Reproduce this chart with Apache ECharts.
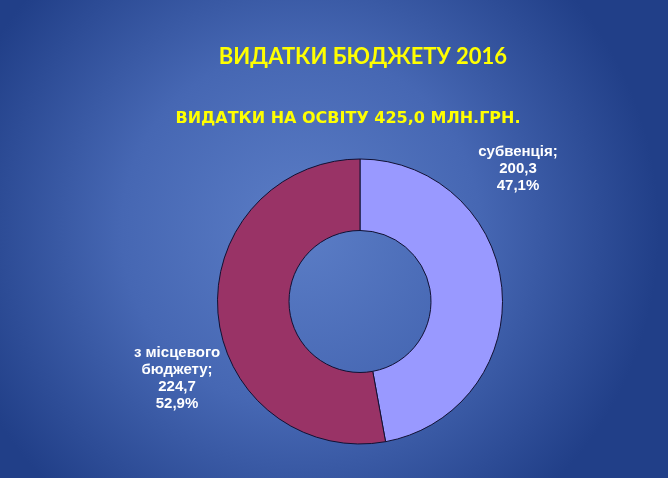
<!DOCTYPE html>
<html>
<head>
<meta charset="utf-8">
<script src="https://cdn.jsdelivr.net/npm/echarts@6/dist/echarts.min.js"></script>
<style>
  html, body { margin: 0; padding: 0; }
  #main { width: 668px; height: 478px; }
</style>
</head>
<body>
<div id="main"></div>
<script>
// дані діаграми
const names = ['субвенція', 'з місцевого бюджету']
const values = [200.3, 224.7]
const colors = ['#9999FF', '#993366']

const chart = echarts.init(document.getElementById('main'))

// де стоять підписи секторів
const labelSpots = [[518, 169], [177, 378]]

const fmt = (v) => v.toFixed(1).replace('.', ',')

const option = {
  backgroundColor: {
    type: 'radial',
    x: 0.45,
    y: 0.48,
    r: 0.75,
    colorStops: [
      { offset: 0, color: '#5B7DC6' },
      { offset: 0.5, color: '#4667B3' },
      { offset: 1, color: '#213F88' }
    ]
  },
  title: [
    {
      text: 'ВИДАТКИ БЮДЖЕТУ 2016',
      left: 358,
      top: 41,
      textAlign: 'center',
      textStyle: { color: '#FFFF00', fontFamily: 'Lato', fontWeight: 'bold', fontSize: 22 }
    },
    {
      text: 'ВИДАТКИ НА ОСВІТУ 425,0 МЛН.ГРН.',
      left: 343,
      top: 106,
      textAlign: 'center',
      textStyle: { color: '#FFFF00', fontFamily: 'DejaVu Sans', fontWeight: 'bold', fontSize: 16 }
    }
  ],
  series: [
    {
      type: 'pie',
      center: [360, 301.5],
      radius: [71, 142.5],
      startAngle: 90,
      clockwise: true,
      silent: true,
      itemStyle: { borderColor: '#111133', borderWidth: 1 },
      label: {
        show: true,
        color: '#FFFFFF',
        fontFamily: 'Liberation Sans',
        fontWeight: 'bold',
        fontSize: 15,
        lineHeight: 17,
        align: 'center',
        formatter: (p) => p.name.replace(' бюджету', '\nбюджету') + ';\n' + fmt(p.value) + '\n' + fmt(p.percent) + '%'
      },
      labelLine: { show: false },
      labelLayout: (p) => ({
        x: labelSpots[p.dataIndex][0],
        y: labelSpots[p.dataIndex][1],
        align: 'center',
        verticalAlign: 'middle'
      }),
      data: names.map((n, i) => ({ name: n, value: values[i], itemStyle: { color: colors[i] } }))
    }
  ]
}

chart.setOption(option)
</script>
</body>
</html>
